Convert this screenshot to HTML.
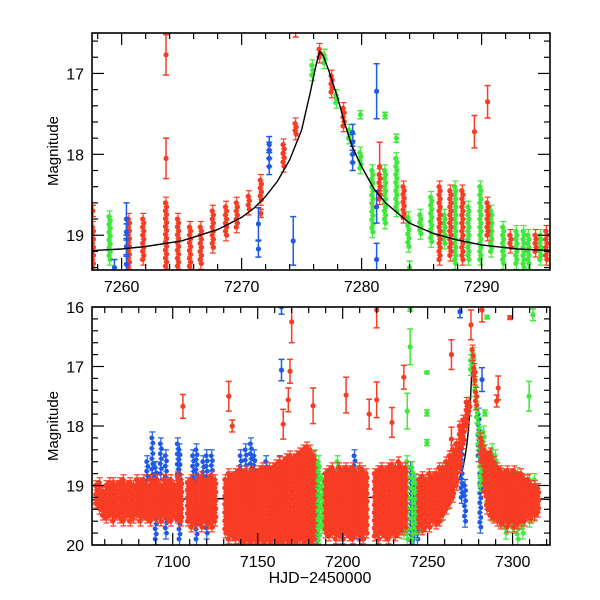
<!DOCTYPE html>
<html><head><meta charset="utf-8"><style>
html,body{margin:0;padding:0;background:#fff}
svg{display:block;font-family:"Liberation Sans",Arial,sans-serif}
</style></head><body>
<svg id="chart" width="600" height="600" viewBox="0 0 600 600" xmlns="http://www.w3.org/2000/svg">
<defs>
<clipPath id="clipTop"><rect x="92" y="33" width="458" height="237"/></clipPath>
<clipPath id="clipBot"><rect x="92" y="307" width="458" height="238"/></clipPath>
</defs>
<g id="top"></g>
<g id="bot"></g>
<text transform="translate(58,151) rotate(-90)" text-anchor="middle" font-size="15">Magnitude</text>
<text transform="translate(58,426) rotate(-90)" text-anchor="middle" font-size="15">Magnitude</text>
<text x="320" y="583" text-anchor="middle" font-size="16">HJD−2450000</text>
</svg>
<script>
// ---------- model curve ----------
const modelT=[7050,7257.5,7260,7262,7265,7268,7270,7271,7272,7273,7274,7275,7275.7,7276.2,7276.5,7276.8,7277.3,7278,7278.6,7279.2,7280,7281,7282,7284,7286,7288,7290,7293,7296,7325];
const modelM=[19.24,19.19,19.17,19.14,19.07,18.93,18.78,18.67,18.52,18.33,18.07,17.7,17.25,16.9,16.73,16.78,16.98,17.3,17.62,17.9,18.15,18.42,18.6,18.85,18.98,19.06,19.12,19.17,19.19,19.24];
// ---------- top panel data ----------
const topRedT=[7257.6,7260.6,7261.8,7263.7,7264.7,7265.7,7266.6,7267.6,7268.7,7269.6,7270.6,7271.6,7273.5,7274.5,7276.5,7277.5,7278.5,7281.5,7283.5,7286.5,7287.4,7288.4,7290.5,7292.4,7294.5,7295.4];
const topRedLo=[18.9,18.8,18.8,18.6,18.8,18.9,18.9,18.7,18.65,18.6,18.52,18.32,17.88,17.62,16.7,17.03,17.43,18.25,18.4,18.4,18.45,18.45,18.6,19.0,19.0,18.95];
const topRedHi=[19.4,19.43,19.3,19.43,19.43,19.43,19.35,19.15,19.0,18.9,18.68,18.56,18.15,17.75,16.8,17.23,17.65,18.55,18.78,19.3,19.25,19.3,19.0,19.15,19.2,19.3];
const topGreenT=[7259.0,7275.9,7276.9,7277.9,7278.97,7279.9,7280.9,7281.95,7282.9,7283.9,7284.9,7285.8,7286.9,7287.8,7288.9,7289.9,7290.8,7291.8,7292.9,7293.5,7293.9,7294.9];
const topGreenLo=[18.77,16.9,16.77,17.27,17.7,17.98,18.2,18.2,18.05,18.78,18.75,18.53,18.75,18.4,18.65,18.4,18.7,18.9,18.95,18.95,19.0,19.0];
const topGreenHi=[19.3,17.02,16.87,17.36,17.8,18.17,18.96,18.85,18.7,19.14,18.98,19.08,19.1,19.35,19.3,19.3,19.2,19.35,19.35,19.4,19.35,19.3];
const topRedOutT=[7263.7,7263.7,7271.6,7289.4,7290.5,7274.5,7257.6,7281.5];
const topRedOutM=[16.77,18.05,18.73,17.72,17.35,16.45,18.7,18.15];
const topRedOutE=[0.25,0.25,0.05,0.2,0.2,0.1,0.07,0.3];
const topGreenOutT=[7279.9,7281.95,7282.9,7284.0];
const topGreenOutM=[17.51,17.52,17.8,19.4];
const topGreenOutE=[0.05,0.04,0.05,0.08];
const topBlueT=[7259.4,7260.4,7260.4,7260.4,7260.4,7271.4,7271.4,7272.3,7272.3,7272.3,7272.3,7274.3,7279.25,7279.25,7279.25,7279.25,7281.25,7281.25,7281.25];
const topBlueM=[19.4,18.8,18.96,19.14,19.36,18.86,19.17,17.88,17.95,18.05,18.15,19.07,17.73,17.85,18.0,18.1,17.22,18.65,19.3];
const topBlueE=[0.1,0.2,0.1,0.1,0.1,0.2,0.1,0.1,0.1,0.1,0.1,0.3,0.1,0.1,0.1,0.1,0.34,0.2,0.2];
// ---------- bottom panel data ----------
const botRedT=[7055,7057,7059,7061,7063,7065,7067,7069,7071,7073,7075,7077,7079,7081,7083,7085,7087,7089,7091,7093,7095,7097,7099,7101,7103,7105,7109,7111,7113,7115,7117,7119,7121,7123,7125,7131,7133,7135,7137,7139,7141,7143,7145,7147,7149,7151,7153,7155,7157,7159,7161,7163,7165,7167,7169,7171,7173,7175,7177,7179,7181,7183,7190,7192,7194,7196,7198,7200,7202,7204,7206,7208,7210,7212,7214,7219,7221,7223,7225,7227,7229,7231,7233,7235,7237,7245,7247,7249,7251,7253,7255,7257,7259,7261,7263,7265,7267,7269,7271,7273,7274.5,7276.5,7277.5,7278.5,7281.5,7283.5,7285,7287,7289,7291,7293,7295,7297,7299,7301,7303,7305,7307,7309,7311,7313,7315];
const botRedLo=[19.0,18.95,19.1,19.0,18.95,18.95,19.0,18.95,18.9,19.0,18.95,19.0,18.9,18.95,18.9,19.0,18.9,18.95,18.9,19.0,18.9,18.95,18.9,19.0,18.85,18.9,18.95,18.9,19.0,18.9,18.85,18.95,18.9,18.85,18.9,18.9,18.8,18.85,18.8,18.75,18.8,18.75,18.8,18.75,18.8,18.75,18.7,18.75,18.7,18.7,18.65,18.6,18.6,18.55,18.5,18.55,18.5,18.45,18.4,18.35,18.4,18.5,18.8,18.75,18.7,18.8,18.7,18.75,18.7,18.75,18.7,18.8,18.7,18.75,18.8,18.8,18.75,18.7,18.75,18.7,18.65,18.7,18.6,18.7,18.7,18.9,18.85,18.9,18.8,18.85,18.8,18.7,18.7,18.6,18.5,18.4,18.3,18.0,17.9,17.6,17.6,16.72,17.03,17.43,18.2,18.4,18.5,18.45,18.6,18.7,18.75,18.8,18.75,18.8,18.75,18.85,18.8,18.9,18.9,19.0,19.0,19.05];
const botRedHi=[19.3,19.4,19.5,19.55,19.5,19.6,19.5,19.55,19.6,19.5,19.6,19.55,19.5,19.6,19.5,19.55,19.6,19.5,19.55,19.6,19.5,19.55,19.6,19.5,19.55,19.6,19.6,19.7,19.65,19.6,19.7,19.6,19.65,19.7,19.6,19.8,19.9,19.85,19.9,19.9,19.95,19.9,19.95,19.9,19.95,19.9,19.95,19.9,19.95,19.9,19.95,19.9,19.95,19.9,19.95,19.9,19.95,19.9,19.95,19.9,19.95,19.9,19.8,19.85,19.8,19.9,19.85,19.9,19.8,19.85,19.9,19.8,19.85,19.9,19.8,19.85,19.9,19.8,19.85,19.9,19.8,19.85,19.8,19.75,19.7,19.7,19.75,19.7,19.7,19.6,19.65,19.6,19.5,19.4,19.3,19.2,19.0,18.7,18.3,18.0,17.75,16.82,17.23,17.65,18.6,19.1,19.4,19.5,19.55,19.6,19.65,19.6,19.7,19.6,19.7,19.65,19.6,19.6,19.5,19.55,19.5,19.45];
const botGreenT=[7184,7186,7188,7197,7205,7236,7238,7241,7243,7246,7258,7262,7275.5,7276.9,7278,7279,7280,7281,7283,7285,7288,7290,7293,7296,7300,7303,7306,7310,7313];
const botGreenLo=[18.5,18.6,18.9,18.6,18.8,18.8,18.6,18.7,18.9,19.0,18.9,18.8,16.9,16.78,17.27,17.7,17.95,18.2,18.1,18.6,18.4,18.5,18.8,18.9,18.9,18.8,18.9,18.9,18.9];
const botGreenHi=[19.9,20.0,19.7,19.4,19.6,19.8,19.9,19.9,19.8,19.7,19.5,19.3,17.05,16.88,17.4,17.85,18.3,19.0,18.9,19.3,19.5,19.5,19.6,19.8,19.7,19.9,19.8,19.6,19.5];
const botBlueT=[7085,7088,7090,7093,7096,7103,7104,7112,7114,7118,7120,7123,7133,7140,7143,7146,7148,7155,7163,7185,7207,7210,7240,7242,7244,7270,7272,7280,7281];
const botBlueLo=[18.6,18.2,18.7,18.3,18.5,18.3,18.4,18.5,18.4,18.6,18.5,18.5,18.9,18.5,18.4,18.3,18.5,18.6,18.6,18.7,18.5,18.8,18.7,18.9,19.0,18.4,19.0,17.8,18.8];
const botBlueHi=[19.0,18.9,19.9,18.8,19.8,19.5,19.9,19.2,19.9,19.3,19.8,19.4,19.9,19.2,19.1,19.3,19.4,19.2,19.3,20.0,19.8,19.9,20.0,19.9,19.9,19.2,19.6,18.5,19.7];
const botRedOutT=[7106,7133,7135,7170,7169,7168,7165,7182.6,7202,7215.6,7220,7220,7229,7236,7264,7264,7275.5,7282,7298.5,7291.5,7290.6];
const botRedOutM=[17.67,17.5,18.0,16.25,17.08,17.56,17.97,17.66,17.48,17.8,17.56,16.05,17.94,17.18,16.8,18.22,16.3,16.05,16.18,17.36,17.58];
const botRedOutE=[0.2,0.25,0.1,0.35,0.2,0.2,0.25,0.3,0.3,0.25,0.3,0.3,0.25,0.2,0.25,0.2,0.25,0.2,0.03,0.2,0.1];
const botGreenOutT=[7239.7,7239.7,7238,7249.6,7249.6,7249.6,7285,7312,7309.7,7283.7];
const botGreenOutM=[16.67,16.02,17.75,17.1,17.78,18.28,16.17,16.13,17.5,17.78];
const botGreenOutE=[0.3,0.05,0.3,0.02,0.05,0.05,0.03,0.1,0.25,0.05];
const botBlueOutT=[7164,7164,7269,7282];
const botBlueOutM=[16.0,17.06,16.08,17.22];
const botBlueOutE=[0.12,0.18,0.1,0.2];

const NS='http://www.w3.org/2000/svg';
const COL={red:'#f83c24',green:'#3fe83a',blue:'#1f5ae6'};
function mk(tag,attrs,parent){const e=document.createElementNS(NS,tag);for(const k in attrs)e.setAttribute(k,attrs[k]);parent.appendChild(e);return e;}

function buildPanel(g,P){
  const X=t=>P.x0+(t-P.t0)/(P.t1-P.t0)*(P.x1-P.x0);
  const Y=m=>P.y0+(m-P.m0)/(P.m1-P.m0)*(P.y1-P.y0);
  const data=mk('g',{'clip-path':P.clip},g);
  
  
  function band(T,Lo,Hi,col,name,err,step,r){
    const gg=mk('g',{},data);
    
    
    for(let i=0;i<T.length;i++){
      const x=X(T[i]),ya=Y(Lo[i]-err),yb=Y(Hi[i]+err);
      mk('line',{x1:x,x2:x,y1:ya,y2:yb,stroke:col,'stroke-width':1.3,opacity:0.9},gg);
      mk('line',{x1:x-3,x2:x+3,y1:ya,y2:ya,stroke:col,'stroke-width':1.2},gg);
      mk('line',{x1:x-3,x2:x+3,y1:yb,y2:yb,stroke:col,'stroke-width':1.2},gg);
      const y0=Y(Lo[i]),y1=Y(Hi[i]);
      const n=Math.max(1,Math.round((y1-y0)/step));
      for(let k=0;k<=n;k++){
        const yy=y0+(y1-y0)*k/n;
        mk('line',{x1:x-2.8,x2:x+2.8,y1:yy,y2:yy,stroke:col,'stroke-width':0.9,opacity:0.7},gg);
        mk('circle',{cx:x+((k%2)?0.6:-0.6),cy:yy,r:r,fill:col},gg);
      }
    }
  }
  function pts(T,M,E,col,name){
    const gg=mk('g',{},data);
    
    
    for(let i=0;i<T.length;i++){
      const x=X(T[i]),ya=Y(M[i]-E[i]),yb=Y(M[i]+E[i]);
      mk('line',{x1:x,x2:x,y1:ya,y2:yb,stroke:col,'stroke-width':1.5},gg);
      mk('line',{x1:x-3,x2:x+3,y1:ya,y2:ya,stroke:col,'stroke-width':1.5},gg);
      mk('line',{x1:x-3,x2:x+3,y1:yb,y2:yb,stroke:col,'stroke-width':1.5},gg);
      mk('circle',{cx:x,cy:Y(M[i]),r:2.6,fill:col},gg);
    }
  }
  P.draw(band,pts);
  let d='';
  for(let i=0;i<modelT.length;i++) d+=(i?'L':'M')+X(modelT[i]).toFixed(1)+','+Y(modelM[i]).toFixed(1);
  const ml=mk('path',{d:d,fill:'none',stroke:'#000','stroke-width':1.4},data);
  
  
  if(P.modelUnder) data.insertBefore(ml,data.firstChild);
  const fr=mk('rect',{x:P.x0,y:P.y0,width:P.x1-P.x0,height:P.y1-P.y0,fill:'none',stroke:'#000','stroke-width':1.6},g);
  
  
  const ax=mk('g',{stroke:'#000','stroke-width':1.2},g);
  
  
  for(let t=Math.ceil(P.t0/P.xmin)*P.xmin;t<=P.t1;t+=P.xmin){
    const major=Math.abs(t/P.xmaj-Math.round(t/P.xmaj))<1e-6;const L=major?12:6;const x=X(t);
    mk('line',{x1:x,x2:x,y1:P.y1,y2:P.y1-L},ax);mk('line',{x1:x,x2:x,y1:P.y0,y2:P.y0+L},ax);
    if(major){const tl=mk('text',{x:x,y:P.y1+22,'text-anchor':'middle','font-size':16,stroke:'none',fill:'#000'},g);tl.textContent=t;
      
      }
  }
  for(let k=Math.ceil(P.m0*5);k<=Math.floor(P.m1*5+1e-6);k++){
    const m=k/5;const major=k%5===0;const L=major?12:6;const y=Y(m);
    mk('line',{x1:P.x0,x2:P.x0+L,y1:y,y2:y},ax);mk('line',{x1:P.x1,x2:P.x1-L,y1:y,y2:y},ax);
    if(major){const tl=mk('text',{x:P.x0-8,y:y+6,'text-anchor':'end','font-size':16,stroke:'none',fill:'#000'},g);tl.textContent=m;
      
      }
  }
}
buildPanel(document.getElementById('top'),{x0:92,x1:550,y0:33,y1:270,t0:7257.53,t1:7295.7,m0:16.5,m1:19.43,clip:'url(#clipTop)',xmin:2,xmaj:10,
  draw:(band,pts)=>{
    band(topGreenT,topGreenLo,topGreenHi,COL.green,'green-series',0.07,4,2.6);
    band(topRedT,topRedLo,topRedHi,COL.red,'red-series',0.07,4,2.6);
    pts(topRedOutT,topRedOutM,topRedOutE,COL.red,'red-outliers');
    pts(topGreenOutT,topGreenOutM,topGreenOutE,COL.green,'green-outliers');
    pts(topBlueT,topBlueM,topBlueE,COL.blue,'blue-series');
  }});
buildPanel(document.getElementById('bot'),{x0:92,x1:550,y0:307,y1:545,t0:7052.5,t1:7322,m0:16,m1:20,clip:'url(#clipBot)',xmin:10,xmaj:50,modelUnder:true,
  draw:(band,pts)=>{
    band(botBlueT,botBlueLo,botBlueHi,COL.blue,'blue-series',0.1,5,2.4);
    band(botGreenT,botGreenLo,botGreenHi,COL.green,'green-series',0.1,5,2.4);
    band(botRedT,botRedLo,botRedHi,COL.red,'red-series',0.08,4,2.6);
    pts(botRedOutT,botRedOutM,botRedOutE,COL.red,'red-outliers');
    pts(botGreenOutT,botGreenOutM,botGreenOutE,COL.green,'green-outliers');
    pts(botBlueOutT,botBlueOutM,botBlueOutE,COL.blue,'blue-outliers');
  }});
</script>
</body></html>
